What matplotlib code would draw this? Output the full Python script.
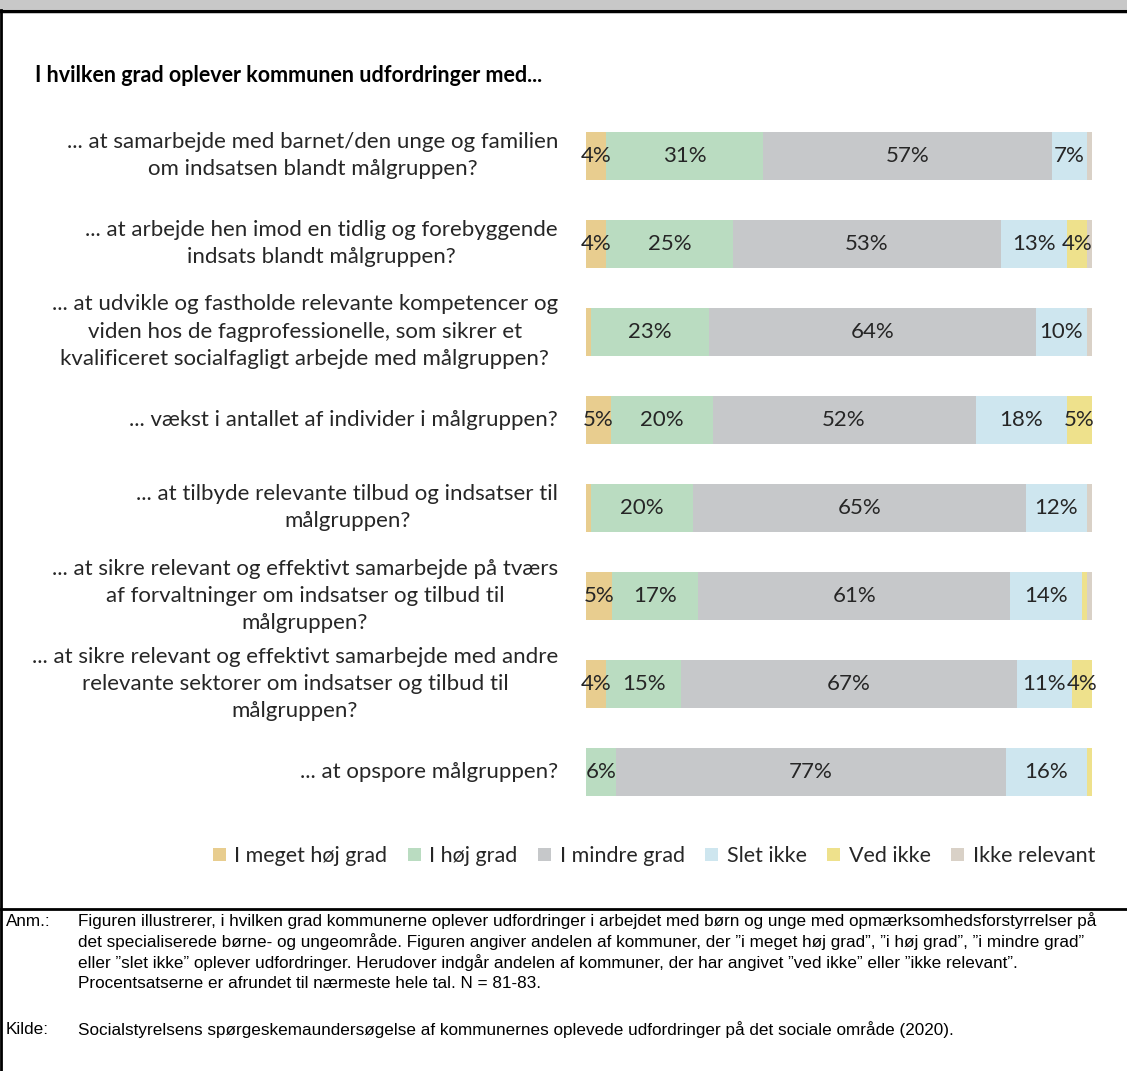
import numpy as np
import matplotlib.pyplot as plt
import matplotlib.transforms as mtransforms
from matplotlib.patches import Rectangle, Patch
from matplotlib.lines import Line2D

# Data (procent af kommuner), læst af figuren
sporgsmaal = [
    "... at samarbejde med barnet/den unge og familien\nom indsatsen blandt målgruppen?",
    "... at arbejde hen imod en tidlig og forebyggende\nindsats blandt målgruppen?",
    "... at udvikle og fastholde relevante kompetencer og\nviden hos de fagprofessionelle, som sikrer et\nkvalificeret socialfagligt arbejde med målgruppen?",
    "... vækst i antallet af individer i målgruppen?",
    "... at tilbyde relevante tilbud og indsatser til\nmålgruppen?",
    "... at sikre relevant og effektivt samarbejde på tværs\naf forvaltninger om indsatser og tilbud til\nmålgruppen?",
    "... at sikre relevant og effektivt samarbejde med andre\nrelevante sektorer om indsatser og tilbud til\nmålgruppen?",
    "... at opspore målgruppen?",
]
kategorier = ["I meget høj grad", "I høj grad", "I mindre grad",
              "Slet ikke", "Ved ikke", "Ikke relevant"]
meget_hoj = [4, 4, 1, 5, 1, 5, 4, 0]
hoj = [31, 25, 23, 20, 20, 17, 15, 6]
mindre = [57, 53, 64, 52, 65, 61, 67, 77]
slet_ikke = [7, 13, 10, 18, 12, 14, 11, 16]
ved_ikke = [0, 4, 0, 5, 0, 1, 4, 1]
ikke_relevant = [1, 1, 1, 0, 1, 1, 0, 0]

farver = ["#E8CD8F", "#BADCC1", "#C6C8CA", "#CEE6EF", "#EEE18C", "#D9D1C7"]

titel = "I hvilken grad oplever kommunen udfordringer med..."
anm_linjer = [
    "Figuren illustrerer, i hvilken grad kommunerne oplever udfordringer i arbejdet med børn og unge med opmærksomhedsforstyrrelser på",
    "det specialiserede børne- og ungeområde. Figuren angiver andelen af kommuner, der ”i meget høj grad”, ”i høj grad”, ”i mindre grad”",
    "eller ”slet ikke” oplever udfordringer. Herudover indgår andelen af kommuner, der har angivet ”ved ikke” eller ”ikke relevant”.",
    "Procentsatserne er afrundet til nærmeste hele tal. N = 81-83.",
]
kilde = "Socialstyrelsens spørgeskemaundersøgelse af kommunernes oplevede udfordringer på det sociale område (2020)."

# ---------------------------------------------------------------------------
W, H = 1127, 1071
fig = plt.figure(figsize=(W / 100, H / 100), dpi=100)
FONT = "Lato"
TXT = "#262626"
FS = 16

def fx(px):
    return px / W

def fy(py):
    return 1 - py / H

# ramme
fig.add_artist(Rectangle((0, fy(9)), 1, 9 / H, transform=fig.transFigure,
                         facecolor="#C8C8C8", edgecolor="none"))
fig.add_artist(Line2D([0, 1], [fy(10.5), fy(10.5)], color="black", lw=2.5,
                      transform=fig.transFigure))
fig.add_artist(Line2D([fx(1), fx(1)], [fy(10), fy(H)], color="black", lw=2,
                      transform=fig.transFigure))
fig.add_artist(Line2D([0, 1], [fy(909), fy(909)], color="black", lw=2,
                      transform=fig.transFigure))

# akse til søjlerne
ax_left, ax_right = 586, 1092
ax_top, ax_bot = 111.5, 816
ax = fig.add_axes([fx(ax_left), fy(ax_bot), (ax_right - ax_left) / W,
                   (ax_bot - ax_top) / H])

data = np.array([meget_hoj, hoj, mindre, slet_ikke, ved_ikke, ikke_relevant], dtype=float)
andel = data / data.sum(axis=0) * 100
y = np.arange(len(sporgsmaal))

venstre = np.zeros(len(y))
for k in range(len(kategorier)):
    ax.barh(y, andel[k], left=venstre, height=0.545, color=farver[k],
            edgecolor="none", label=kategorier[k])
    for i in y:
        if data[k, i] >= 4:
            ax.text(venstre[i] + andel[k, i] / 2, i, f"{int(data[k, i])}%",
                    ha="center", va="center", fontsize=FS, family=FONT, color=TXT)
    venstre += andel[k]

ax.set_xlim(0, 100)
ax.set_ylim(len(y) - 0.5, -0.5)
ax.axis("off")

trans = mtransforms.blended_transform_factory(ax.transAxes, ax.transData)
lx = (558 - ax_left) / (ax_right - ax_left)
for i, tekst in enumerate(sporgsmaal):
    ax.text(lx, i, tekst, transform=trans, ha="right", va="center",
            multialignment="center", fontsize=FS, family=FONT, color=TXT,
            linespacing=1.45)

# titel
fig.text(fx(35), fy(75), titel, fontsize=15.5, fontweight="bold", family=FONT,
         color="black", va="center")

# legende
handles = [Patch(facecolor=c, edgecolor="none") for c in farver]
fig.legend(handles, kategorier, loc="center right", bbox_to_anchor=(fx(1095), fy(856)),
           ncol=6, frameon=False, handlelength=0.6, handleheight=0.6,
           handletextpad=0.4, columnspacing=0.95, borderpad=0, borderaxespad=0,
           prop={"family": FONT, "size": 15.5}, labelcolor=TXT)

# noter
NOTE = "Liberation Sans"
NS = 12.35
fig.text(fx(6), fy(921), "Anm.:", fontsize=NS, family=NOTE, va="center")
for j, linje in enumerate(anm_linjer):
    fig.text(fx(78), fy(921 + j * 20.7), linje, fontsize=NS, family=NOTE, va="center")
fig.text(fx(6), fy(1030), "Kilde:", fontsize=NS, family=NOTE, va="center")
fig.text(fx(78), fy(1030), kilde, fontsize=NS, family=NOTE, va="center")

fig.savefig("out.png", dpi=100)
